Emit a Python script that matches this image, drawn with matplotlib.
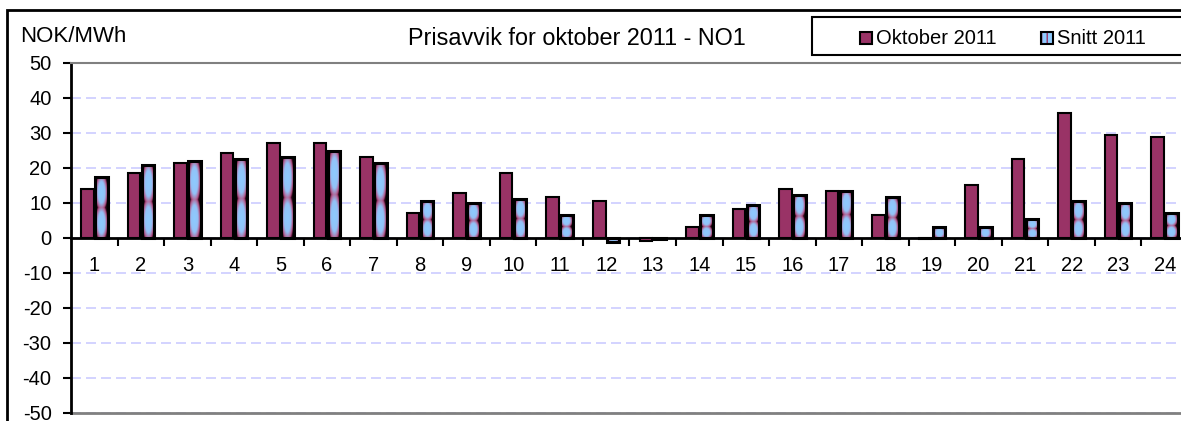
import numpy as np
import matplotlib
matplotlib.use("Agg")
import matplotlib.pyplot as plt
from matplotlib.patches import Rectangle
from matplotlib.colors import LinearSegmentedColormap

plt.rcParams['font.family'] = ['Liberation Sans', 'DejaVu Sans']
plt.rcParams['axes.unicode_minus'] = False

hours = list(range(1, 25))
oktober_2011 = [13.8, 18.5, 21.3, 24.1, 27.0, 27.0, 23.0, 7.1, 12.8, 18.5, 11.6, 10.5,
                -1.0, 3.0, 8.2, 13.8, 13.3, 6.4, -0.3, 15.1, 22.5, 35.6, 29.4, 28.8]
snitt_2011 = [17.3, 20.8, 22.0, 22.5, 23.1, 24.8, 21.3, 10.5, 10.0, 11.0, 6.4, -1.2,
              -0.5, 6.4, 9.4, 12.3, 13.3, 11.6, 3.0, 3.0, 5.3, 10.5, 10.0, 7.1]

W, H = 1181, 421
fig = plt.figure(figsize=(W / 100, H / 100), dpi=100)
ax = fig.add_axes([71 / W, (H - 412.7) / H, (1188 - 71) / W, 350 / H])

plum = '#993366'
bw = 0.27
ax.bar(np.array(hours) - 0.15, oktober_2011, width=bw, color=plum,
       edgecolor='black', linewidth=1.5, zorder=3)
sb = ax.bar(np.array(hours) + 0.15, snitt_2011, width=bw, facecolor='none',
            edgecolor='black', linewidth=2.2, zorder=4)

# picture-like fill for the "Snitt" bars
cmap = LinearSegmentedColormap.from_list(
    'snitt', [(0, '#8ecbff'), (0.55, '#93c2f7'), (0.8, '#b06a9a'), (0.92, plum), (1, '#1a0610')])
u = np.linspace(-1, 1, 40)
for rect, v in zip(sb, snitt_2011):
    x0, y0 = rect.get_x(), rect.get_y()
    w, h = rect.get_width(), rect.get_height()
    ntile = 2 if abs(h) > 4 else 1
    t = np.linspace(0, ntile, 80 * ntile) % 1.0
    t = (t - 0.5) * 2
    d = np.sqrt(u[None, :] ** 2 + 0.6 * t[:, None] ** 2)
    im = ax.imshow(np.clip(d, 0, 1), cmap=cmap, vmin=0, vmax=1, aspect='auto',
                   extent=[x0, x0 + w, y0, y0 + h], origin='lower',
                   interpolation='bilinear', zorder=3.5)
    im.set_clip_path(rect)

ax.set_xlim(0.5, 24.5)
ax.set_ylim(-50, 50)
ax.set_yticks(range(-50, 51, 10))
ax.yaxis.grid(True, color='#ccccff', linestyle=(0, (6, 3)), linewidth=1.2, zorder=0)
ax.set_axisbelow(True)

ax.set_xticks(hours)
ax.set_xticklabels([str(h) for h in hours])
ax.set_xticks(np.arange(1.5, 25, 1), minor=True)
ax.tick_params(axis='x', which='major', length=0, pad=13, labelsize=14.5)
ax.tick_params(axis='x', which='minor', length=5.5, width=1.5, direction='out')
ax.tick_params(axis='y', length=6, width=1.5, pad=8, labelsize=14.5)

ax.spines['bottom'].set_position(('data', 0))
ax.spines['bottom'].set_linewidth(2)
ax.spines['left'].set_linewidth(2)
ax.spines['top'].set_color('#808080')
ax.spines['top'].set_linewidth(1.5)
ax.spines['right'].set_visible(False)
ax.axhline(-50, color='#808080', linewidth=2, clip_on=False, zorder=2)

# outer chart frame
fig.add_artist(Rectangle((7 / W, -0.2), 1.3, 1.2 - 10 / H, transform=fig.transFigure,
                         facecolor='none', edgecolor='black', linewidth=2))

fig.text(20 / W, 1 - 42 / H, 'NOK/MWh', fontsize=16, ha='left', va='baseline')
fig.text(408 / W, 1 - 45 / H, 'Prisavvik for oktober 2011 - NO1', fontsize=16.8,
         ha='left', va='baseline')

# legend box
fig.add_artist(Rectangle((812 / W, 1 - 55 / H), 400 / W, 38 / H, transform=fig.transFigure,
                         facecolor='white', edgecolor='black', linewidth=1.5))
fig.add_artist(Rectangle((860 / W, 1 - 44 / H), 12 / W, 12 / H, transform=fig.transFigure,
                         facecolor=plum, edgecolor='black', linewidth=1.5))
fig.text(876 / W, 1 - 43.5 / H, 'Oktober 2011', fontsize=14.5, ha='left', va='baseline')
fig.add_artist(Rectangle((1041 / W, 1 - 44 / H), 12 / W, 12 / H, transform=fig.transFigure,
                         facecolor='#8ecbff', edgecolor=plum, hatch='|||', linewidth=0))
fig.add_artist(Rectangle((1041 / W, 1 - 44 / H), 12 / W, 12 / H, transform=fig.transFigure,
                         facecolor='none', edgecolor='black', linewidth=1.5))
fig.text(1057 / W, 1 - 43.5 / H, 'Snitt 2011', fontsize=14.5, ha='left', va='baseline')

fig.savefig('out.png', dpi=100)
